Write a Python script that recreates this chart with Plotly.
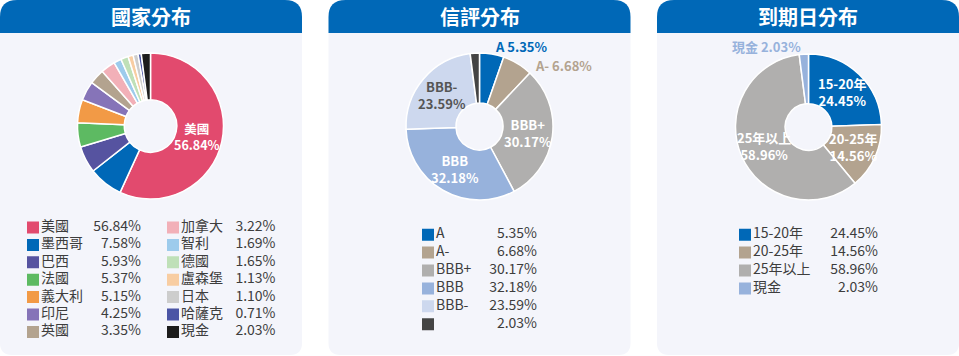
import math
import plotly.graph_objects as go

W, H = 959, 356
FONT = "Noto Sans CJK TC, Noto Sans, sans-serif"

# ---------------- data ----------------
country_names = ["美國", "墨西哥", "巴西", "法國", "義大利", "印尼", "英國",
                 "加拿大", "智利", "德國", "盧森堡", "日本", "哈薩克", "現金"]
country_values = [56.84, 7.58, 5.93, 5.37, 5.15, 4.25, 3.35,
                  3.22, 1.69, 1.65, 1.13, 1.10, 0.71, 2.03]
country_colors = ["#e24a6e", "#0068b7", "#5653a0", "#5dba62", "#f29a46", "#8674b8", "#b3a38f",
                  "#f2b0b8", "#9dcbec", "#bfe0b8", "#f8cda2", "#cdcdcd", "#4b55a5", "#1c1c1c"]
country_textpos = ["inside"] + ["none"] * 13
country_textcolors = ["#ffffff"] * 14

rating_names = ["A", "A-", "BBB+", "BBB", "BBB-", ""]
rating_values = [5.35, 6.68, 30.17, 32.18, 23.59, 2.03]
rating_colors = ["#0068b7", "#b3a38f", "#b0afae", "#97b2dc", "#cdd8ee", "#444444"]
rating_textpos = ["outside", "outside", "inside", "inside", "inside", "none"]
rating_textcolors = ["#0068b7", "#b3a38f", "#ffffff", "#ffffff", "#555555", "#ffffff"]

maturity_names = ["15-20年", "20-25年", "25年以上", "現金"]
maturity_values = [24.45, 14.56, 58.96, 2.03]
maturity_colors = ["#0068b7", "#b3a38f", "#b0afae", "#97b2dc"]
maturity_textpos = ["inside", "inside", "inside", "outside"]
maturity_textcolors = ["#ffffff", "#ffffff", "#ffffff", "#97b2dc"]

titles = ["國家分布", "信評分布", "到期日分布"]

# ---------------- helpers ----------------
def px_x(x):
    return x / W

def px_y(y):
    return 1 - y / H

def fmt(v):
    return f"{v:.2f}%"

cards = [(0, 302), (328.5, 630.5), (657, 959)]
HEAD = 33
BOTTOM = 355
RT, RB = 17, 12

shapes = []
annotations = []
for (x0, x1), title in zip(cards, titles):
    head = (f"M {px_x(x0)},{px_y(HEAD)} L {px_x(x0)},{px_y(RT)} "
            f"Q {px_x(x0)},{px_y(0)} {px_x(x0+RT)},{px_y(0)} "
            f"L {px_x(x1-RT)},{px_y(0)} Q {px_x(x1)},{px_y(0)} {px_x(x1)},{px_y(RT)} "
            f"L {px_x(x1)},{px_y(HEAD)} Z")
    body = (f"M {px_x(x0)},{px_y(HEAD)} L {px_x(x1)},{px_y(HEAD)} "
            f"L {px_x(x1)},{px_y(BOTTOM-RB)} Q {px_x(x1)},{px_y(BOTTOM)} {px_x(x1-RB)},{px_y(BOTTOM)} "
            f"L {px_x(x0+RB)},{px_y(BOTTOM)} Q {px_x(x0)},{px_y(BOTTOM)} {px_x(x0)},{px_y(BOTTOM-RB)} Z")
    shapes.append(dict(type="path", path=head, xref="paper", yref="paper",
                       fillcolor="#0068b7", line=dict(width=0), layer="below"))
    shapes.append(dict(type="path", path=body, xref="paper", yref="paper",
                       fillcolor="#f4f5fb", line=dict(width=0), layer="below"))
    annotations.append(dict(text=title, x=px_x((x0 + x1) / 2), y=px_y(17),
                            xref="paper", yref="paper", showarrow=False,
                            xanchor="center", yanchor="middle",
                            font=dict(family=FONT, size=20, color="white", weight="bold")))

fig = go.Figure()
OUT_LINE = 19  # min vertical distance between outside labels

def add_donut(names, values, colors, textpos, textcolors, cx, cy, r, hole,
              fsize, r_in_label, r_out_label):
    fig.add_trace(go.Pie(
        labels=[n if n else "現金" for n in names], values=values, sort=False,
        direction="clockwise", hole=hole,
        domain=dict(x=[px_x(cx - r), px_x(cx + r)], y=[px_y(cy + r), px_y(cy - r)]),
        marker=dict(colors=colors, line=dict(color="white", width=1.5)),
        textinfo="none", showlegend=False, hoverinfo="label+percent"))
    total = sum(values)
    cum = 0.0
    prev = {}
    for n, v, tp, col in zip(names, values, textpos, textcolors):
        mid = (cum + v / 2) / total * 2 * math.pi
        cum += v
        if tp == "none":
            continue
        s, c = math.sin(mid), math.cos(mid)
        f = dict(family=FONT, size=fsize, color=col, weight="bold")
        if tp == "inside":
            lx, ly = cx + r_in_label * s, cy - r_in_label * c
            annotations.append(dict(text=f"{n}<br>{fmt(v)}", x=px_x(lx), y=px_y(ly),
                                    xref="paper", yref="paper", showarrow=False,
                                    xanchor="center", yanchor="middle", font=f))
        else:
            side = 1 if s >= 0 else -1
            lx, ly = cx + r_out_label * s, cy - r_out_label * c
            if side in prev and abs(ly - prev[side]) < OUT_LINE:
                ly = prev[side] + OUT_LINE
                dy = ly - cy
                lx = cx + side * math.sqrt(max(r_out_label ** 2 - dy ** 2, 0))
            prev[side] = ly
            annotations.append(dict(text=f"{n} {fmt(v)}", x=px_x(lx), y=px_y(ly),
                                    xref="paper", yref="paper", showarrow=False,
                                    xanchor="left" if side > 0 else "right",
                                    yanchor="middle", font=f))

add_donut(country_names, country_values, country_colors, country_textpos, country_textcolors,
          150.5, 126, 73, 0.36, 12.5, 48, 81)
add_donut(rating_names, rating_values, rating_colors, rating_textpos, rating_textcolors,
          479.5, 126.5, 73.5, 0.32, 13, 49, 81)
add_donut(maturity_names, maturity_values, maturity_colors, maturity_textpos, maturity_textcolors,
          808.5, 127, 73, 0.32, 13, 49, 81)

# ---------------- legends (scatter on hidden axes) ----------------
LEG_COLOR = "#3d3d3d"
layout_axes = {}

def add_legend(idx, names, values, colors, columns, first_y, spacing):
    n = len(names)
    ncol = len(columns)
    nrows = -(-n // ncol)
    yname = f"yaxis{idx}"
    yref = f"y{idx}"
    top = first_y - spacing / 2
    bot = first_y + (nrows - 0.5) * spacing
    layout_axes[yname] = dict(domain=[px_y(bot), px_y(top)], range=[nrows - 0.5, -0.5],
                              visible=False, fixedrange=True)
    rows = [i % nrows for i in range(n)]
    cols = [i // nrows for i in range(n)]
    sq_x = [columns[c][0] + 6 for c in cols]
    nm_x = [columns[c][0] + 14 for c in cols]
    pc_x = [columns[c][1] for c in cols]
    fig.add_trace(go.Scatter(x=sq_x, y=rows, mode="markers", xaxis="x", yaxis=yref,
                             marker=dict(symbol="square", size=12, color=colors, line=dict(width=0)),
                             showlegend=False, hoverinfo="skip"))
    fig.add_trace(go.Scatter(x=nm_x, y=rows, mode="text", xaxis="x", yaxis=yref,
                             text=names, textposition="middle right",
                             textfont=dict(family=FONT, size=14, color=LEG_COLOR),
                             showlegend=False, hoverinfo="skip"))
    fig.add_trace(go.Scatter(x=pc_x, y=rows, mode="text", xaxis="x", yaxis=yref,
                             text=[fmt(v) for v in values], textposition="middle left",
                             textfont=dict(family=FONT, size=14, color=LEG_COLOR),
                             showlegend=False, hoverinfo="skip"))

add_legend(1, country_names, country_values, country_colors, [(27, 141), (167, 275.5)], 227.5, 17.4)
add_legend(2, rating_names, rating_values, rating_colors, [(422, 537)], 234.7, 17.9)
add_legend(3, maturity_names, maturity_values, maturity_colors, [(739, 878)], 234.7, 17.9)

fig.update_layout(
    width=W, height=H, margin=dict(l=0, r=0, t=0, b=0),
    paper_bgcolor="white", plot_bgcolor="rgba(0,0,0,0)",
    shapes=shapes, annotations=annotations,
    xaxis=dict(domain=[0, 1], range=[0, W], visible=False, fixedrange=True),
    font=dict(family=FONT),
    **layout_axes,
)

fig.write_html("out.html")
